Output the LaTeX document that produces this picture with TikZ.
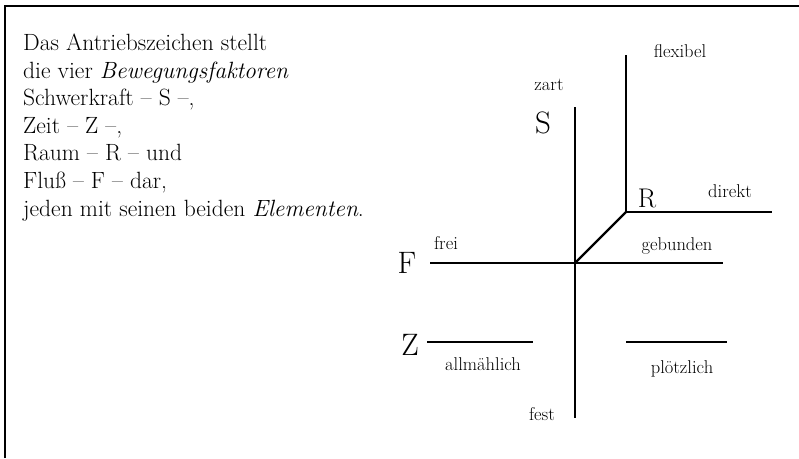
\documentclass[tikz,border=0pt]{standalone}
\usetikzlibrary{positioning}
\tikzset{
  strich/.style={line width=2.4pt, line cap=butt},
  rahmen/.style={line width=1.4pt},
  faktor/.style={font=\fontsize{31}{31}\selectfont, inner sep=0pt, anchor=base},
  element/.style={font=\fontsize{18.5}{18.5}\selectfont, inner sep=0pt, anchor=base},
}

\begin{document}
\begin{tikzpicture}[x=1pt,y=-1pt]
        \useasboundingbox (0,0) rectangle (799,458);

        % ==========================================
        % Frame (top and left edge only)
        % ==========================================
        \draw[rahmen] (5,458) -- (5,6) -- (799,6);

        % ==========================================
        % Text block
        % ==========================================
        \node[anchor=north west, inner sep=0pt, align=left,
              font=\fontsize{23.5}{27.6}\selectfont] (text) at (23,33.6)
          {Das Antriebszeichen stellt\\
           die vier \textit{Bewegungsfaktoren}\\
           Schwerkraft -- S --,\\
           Zeit -- Z --,\\
           Raum -- R -- und\\
           Flu\ss{} -- F -- dar,\\
           jeden mit seinen beiden \textit{Elementen}.};

        % ==========================================
        % Antriebszeichen
        % ==========================================
        \coordinate (mitte) at (575,263);
        \coordinate (raum) at (626,212);
        \coordinate (s-oben) at (575,107);
        \coordinate (s-unten) at (575,418);
        \coordinate (r-oben) at (626,55);
        \coordinate (r-rechts) at (772,212);
        \coordinate (f-links) at (430,263);
        \coordinate (f-rechts) at (723,263);
        \coordinate (z-links-a) at (427,342);
        \coordinate (z-links-b) at (533,342);
        \coordinate (z-rechts-a) at (626,342);
        \coordinate (z-rechts-b) at (727,342);

        % Schwerkraft: vertical
        \draw[strich] (s-oben) -- (s-unten);
        % Raum: vertical, corner, horizontal
        \draw[strich, line join=miter] (r-oben) -- (raum) -- (r-rechts);
        % diagonal to the centre
        \draw[strich] (raum) -- (mitte);
        % Fluss: horizontal
        \draw[strich] (f-links) -- (f-rechts);
        % Zeit: two short strokes
        \draw[strich] (z-links-a) -- (z-links-b);
        \draw[strich] (z-rechts-a) -- (z-rechts-b);

        % ==========================================
        % Factors and elements
        % ==========================================
        \node[faktor] (S) at (543,133) {S};
        \node[faktor, font=\fontsize{27}{27}\selectfont] (R) at (647,207) {R};
        \node[faktor] (F) at (407,273) {F};
        \node[faktor] (Z) at (410,355) {Z};

        \node[element] (zart) at (549,90) {zart};
        \node[element] (fest) at (542,420) {fest};
        \node[element] (flexibel) at (680,57) {flexibel};
        \node[element] (direkt) at (730,197) {direkt};
        \node[element] (frei) at (446,249) {frei};
        \node[element] (gebunden) at (677,250) {gebunden};
        \node[element] (allmaehlich) at (483,370) {allm\"ahlich};
        \node[element] (ploetzlich) at (682,373) {pl\"otzlich};

    \end{tikzpicture}
\end{document}
